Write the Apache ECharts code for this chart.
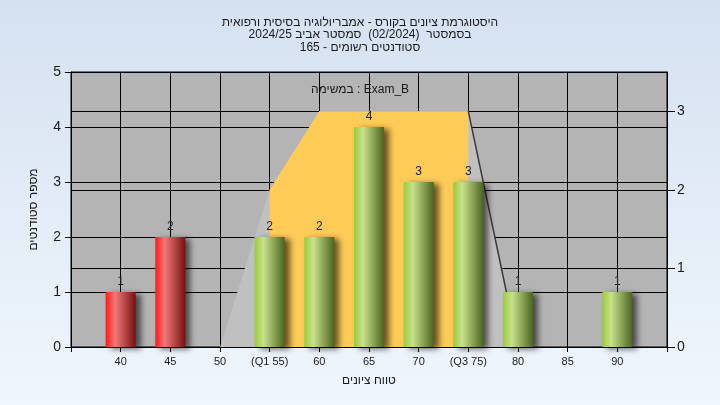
<!DOCTYPE html>
<html>
<head>
<meta charset="utf-8">
<script src="https://cdn.jsdelivr.net/npm/echarts@6/dist/echarts.min.js"></script>
<style>
  html, body { margin: 0; padding: 0; }
  #chart { width: 720px; height: 405px; }
</style>
</head>
<body>
<div id="chart"></div>
<script>
// grade bins and student counts
const scores = [40, 45, 50, 55, 60, 65, 70, 75, 80, 85, 90]
const counts = [1, 2, 0, 2, 2, 4, 3, 3, 1, 0, 1]
const tickLabels = ['40', '45', '50', '(Q1 55)', '60', '65', '70', '(Q3 75)', '80', '85', '90']
const passScore = 50

// distribution shape (right axis) and the interquartile part of it
const shapeX = [50, 55, 60, 75, 80]
const shapeY = [0, 2, 3, 3, 0]
const iqrX = [55, 60, 75]
const iqrY = [2, 3, 3]
const edgeX = [75, 80]
const edgeY = [3, 0]

const titleText = 'היסטוגרמת ציונים בקורס - אמבריולוגיה בסיסית ורפואית\nבסמסטר  (02/2024)  סמסטר אביב 2024/25\nסטודנטים רשומים - 165'
const taskText = 'במשימה : Exam_B'

const font = '"Liberation Sans", Arial, "DejaVu Sans", sans-serif'

const labelMap = {}
scores.forEach((s, i) => { labelMap[s] = tickLabels[i] })

const zip = (xs, ys) => xs.map((x, i) => [x, ys[i]])

const redFill = new echarts.graphic.LinearGradient(0, 0, 1, 0, [
  { offset: 0, color: '#ff1a1a' },
  { offset: 0.32, color: '#f07878' },
  { offset: 1, color: '#761010' }
])
const greenFill = new echarts.graphic.LinearGradient(0, 0, 1, 0, [
  { offset: 0, color: '#9acb3a' },
  { offset: 0.3, color: '#c8e18c' },
  { offset: 1, color: '#4b6420' }
])

const chart = echarts.init(document.getElementById('chart'))
chart.setOption({
  animation: false,
  backgroundColor: new echarts.graphic.LinearGradient(0, 0, 0, 1, [
    { offset: 0, color: '#d5e1f1' },
    { offset: 1, color: '#f0f6fd' }
  ]),
  textStyle: { fontFamily: font },
  title: [
    {
      text: titleText,
      left: 'center',
      top: 11,
      textStyle: { fontSize: 12, fontWeight: 'normal', color: '#1a1a1a', lineHeight: 12.5, fontFamily: font }
    },
    {
      text: taskText,
      left: 'center',
      top: 79,
      textStyle: { fontSize: 12, fontWeight: 'normal', color: '#1a1a1a', fontFamily: font }
    }
  ],
  grid: { left: 71, right: 53, top: 72, bottom: 58, show: true, backgroundColor: '#b4b4b4', borderColor: '#000', borderWidth: 1 },
  xAxis: {
    type: 'value',
    min: 35,
    max: 95,
    interval: 5,
    name: 'טווח ציונים',
    nameLocation: 'middle',
    nameGap: 28,
    nameTextStyle: { fontSize: 12, color: '#1a1a1a' },
    axisLine: { lineStyle: { color: '#000' } },
    axisTick: { length: 5, lineStyle: { color: '#000' } },
    axisLabel: {
      fontSize: 11,
      color: '#1a1a1a',
      margin: 9,
      formatter: v => labelMap[v] || ''
    },
    splitLine: { show: true, lineStyle: { color: '#000', width: 1 } }
  },
  yAxis: [
    {
      type: 'value',
      min: 0,
      max: 5,
      interval: 1,
      name: 'מספר סטודנטים',
      nameLocation: 'middle',
      nameGap: 31,
      nameTextStyle: { fontSize: 12, color: '#1a1a1a' },
      axisLine: { show: true, lineStyle: { color: '#000' } },
      axisTick: { show: true, length: 6, lineStyle: { color: '#000' } },
      axisLabel: { fontSize: 14, color: '#1a1a1a', margin: 10 },
      splitLine: { show: true, lineStyle: { color: '#000', width: 1 } }
    },
    {
      type: 'value',
      min: 0,
      max: 3.5,
      interval: 1,
      position: 'right',
      axisLine: { show: true, lineStyle: { color: '#000' } },
      axisTick: { show: true, length: 8, lineStyle: { color: '#000' } },
      axisLabel: { fontSize: 14, color: '#1a1a1a', margin: 10, showMaxLabel: false },
      splitLine: { show: true, lineStyle: { color: '#000', width: 1 } }
    }
  ],
  series: [
    {
      type: 'line',
      yAxisIndex: 1,
      data: zip(shapeX, shapeY),
      symbol: 'none',
      lineStyle: { width: 0 },
      areaStyle: { color: '#c0c0c0', opacity: 1 },
      z: 1
    },
    {
      type: 'line',
      yAxisIndex: 1,
      data: zip(iqrX, iqrY),
      symbol: 'none',
      lineStyle: { width: 0 },
      areaStyle: { color: '#fecb57', opacity: 1 },
      z: 1
    },
    {
      type: 'line',
      yAxisIndex: 1,
      data: zip(edgeX, edgeY),
      symbol: 'none',
      lineStyle: { width: 1.5, color: '#3a3a3a' },
      z: 1
    },
    {
      type: 'bar',
      barWidth: 30,
      data: scores.map((s, i) => ({
        value: [s, counts[i]],
        itemStyle: { color: s < passScore ? redFill : greenFill }
      })),
      itemStyle: {
        shadowColor: 'rgba(0,0,0,0.6)',
        shadowBlur: 6,
        shadowOffsetX: 5,
        shadowOffsetY: 2
      },
      label: {
        show: true,
        position: 'top',
        distance: 4,
        fontSize: 12,
        color: '#222',
        formatter: p => (p.value[1] ? p.value[1] : '')
      },
      z: 3
    }
  ]
})
</script>
</body>
</html>
